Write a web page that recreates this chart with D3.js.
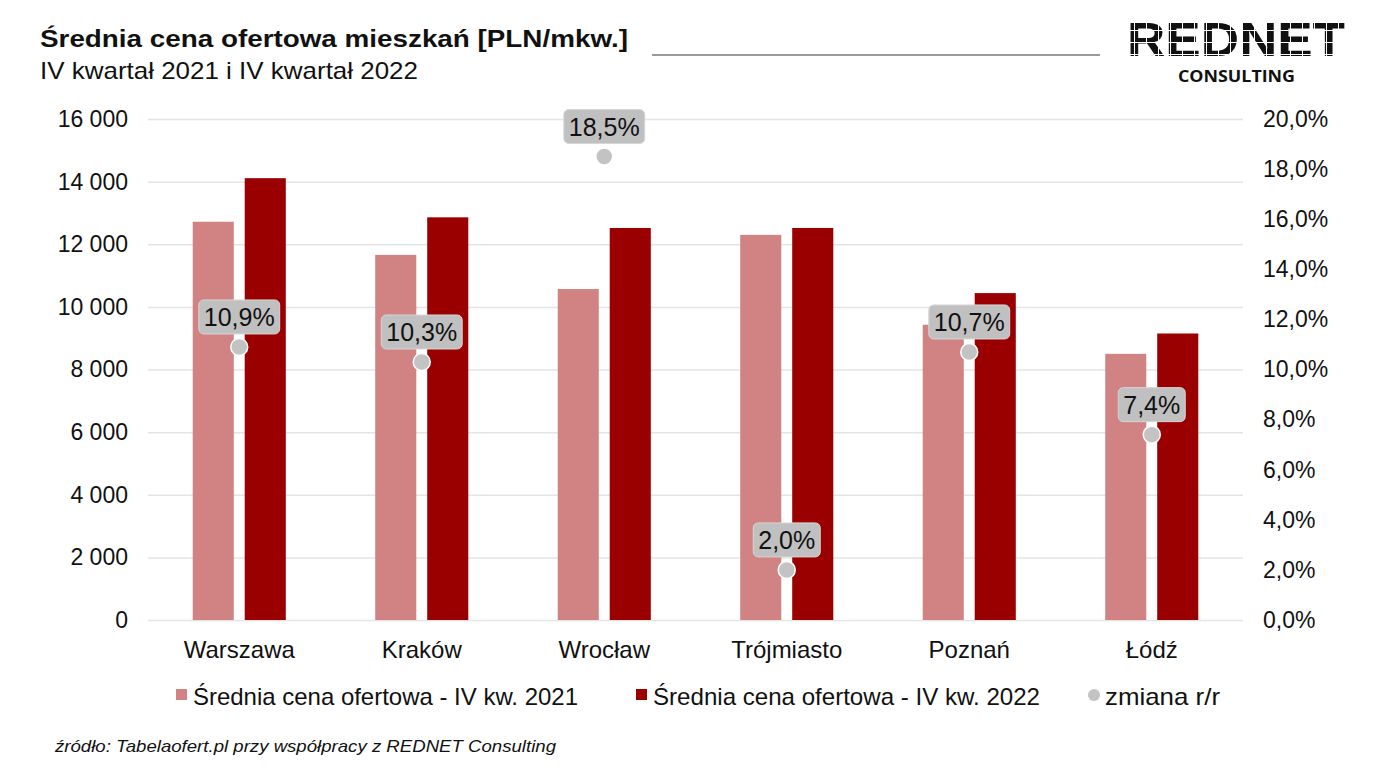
<!DOCTYPE html>
<html>
<head>
<meta charset="utf-8">
<script src="https://cdn.jsdelivr.net/npm/d3@7"></script>
<style>
  body { margin: 0; background: #fff; }
  text { font-family: "Liberation Sans", Arial, sans-serif; }
</style>
</head>
<body>
<div id="chart"></div>
<script>
const cities = ["Warszawa", "Kraków", "Wrocław", "Trójmiasto", "Poznań", "Łódź"];
const price2021 = [12720, 11660, 10570, 12300, 9430, 8500];
const price2022 = [14110, 12860, 12520, 12520, 10440, 9150];
const change = [10.9, 10.3, 18.5, 2.0, 10.7, 7.4];
const leftTicks = [0, 2000, 4000, 6000, 8000, 10000, 12000, 14000, 16000];
const rightTicks = [0, 2, 4, 6, 8, 10, 12, 14, 16, 18, 20];
const seriesNames = ["Średnia cena ofertowa - IV kw. 2021", "Średnia cena ofertowa - IV kw. 2022", "zmiana r/r"];

const width = 1385, height = 779;
const margin = { top: 119, right: 142, bottom: 159, left: 148 };
const colLight = "#d18383", colDark = "#9b0000", colDot = "#c3c3c3";

const svg = d3.select("#chart").append("svg")
    .attr("width", width)
    .attr("height", height);

// stripe pattern for the logo letters
const pat = svg.append("defs").append("pattern")
    .attr("id", "logoGrid")
    .attr("patternUnits", "userSpaceOnUse")
    .attr("width", 12).attr("height", 12);
pat.append("rect").attr("width", 12).attr("height", 12).attr("fill", "#111");
pat.append("rect").attr("x", 6).attr("width", 1).attr("height", 12).attr("fill", "#fff");
pat.append("rect").attr("y", 6).attr("width", 12).attr("height", 1).attr("fill", "#fff");

const x = d3.scaleBand()
    .domain(cities)
    .range([margin.left, width - margin.right])
    .paddingInner(0.49)
    .paddingOuter(0.245);

const xSub = d3.scaleBand()
    .domain([0, 1])
    .range([0, x.bandwidth()])
    .paddingInner(0.21);

const y = d3.scaleLinear()
    .domain([0, 16000])
    .range([height - margin.bottom, margin.top]);

const y2 = d3.scaleLinear()
    .domain([0, 20])
    .range([height - margin.bottom, margin.top]);

// gridlines
svg.append("g")
    .attr("transform", `translate(${margin.left},0)`)
    .call(d3.axisLeft(y).tickValues(leftTicks).tickSize(-(width - margin.left - margin.right)).tickFormat(""))
    .call(g => g.select(".domain").remove())
    .call(g => g.selectAll(".tick line").attr("stroke", "#e4e4e4").attr("stroke-width", 1.5));

// left axis labels
const fmtThousands = d => d3.format(",")(d).replace(/,/g, " ");
svg.append("g")
    .attr("transform", `translate(${margin.left - 20},0)`)
    .call(d3.axisLeft(y).tickValues(leftTicks).tickSize(0).tickFormat(fmtThousands))
    .call(g => g.select(".domain").remove())
    .call(g => g.selectAll(".tick text")
        .attr("x", 0).attr("fill", "#111").style("font-size", "23px")
        .style("font-family", "'Liberation Sans', Arial, sans-serif"));

// right axis labels
svg.append("g")
    .attr("transform", `translate(${width - margin.right + 20},0)`)
    .call(d3.axisRight(y2).tickValues(rightTicks).tickSize(0).tickFormat(d => d.toFixed(1).replace(".", ",") + "%"))
    .call(g => g.select(".domain").remove())
    .call(g => g.selectAll(".tick text")
        .attr("x", 0).attr("fill", "#111").style("font-size", "23px")
        .style("font-family", "'Liberation Sans', Arial, sans-serif"));

// x axis labels
svg.append("g")
    .attr("transform", `translate(0,${height - margin.bottom + 18})`)
    .call(d3.axisBottom(x).tickSize(0))
    .call(g => g.select(".domain").remove())
    .call(g => g.selectAll(".tick text")
        .attr("fill", "#111").style("font-size", "24px")
        .style("font-family", "'Liberation Sans', Arial, sans-serif"));

// bars
const groups = svg.selectAll("g.city")
    .data(cities)
    .enter().append("g")
    .attr("class", "city")
    .attr("transform", d => `translate(${x(d)},0)`);

groups.append("rect")
    .attr("x", xSub(0))
    .attr("width", xSub.bandwidth())
    .attr("y", (d, i) => y(price2021[i]))
    .attr("height", (d, i) => y(0) - y(price2021[i]))
    .attr("fill", colLight);

groups.append("rect")
    .attr("x", xSub(1))
    .attr("width", xSub.bandwidth())
    .attr("y", (d, i) => y(price2022[i]))
    .attr("height", (d, i) => y(0) - y(price2022[i]))
    .attr("fill", colDark);

// change dots and labels
cities.forEach((c, i) => {
    const cx = x(c) + x.bandwidth() / 2;
    const cy = y2(change[i]);
    svg.append("circle")
        .attr("cx", cx).attr("cy", cy).attr("r", 8.5)
        .attr("fill", colDot).attr("stroke", "#fff").attr("stroke-width", 1.5);

    const lbl = svg.append("g");
    const box = lbl.append("rect");
    const t = lbl.append("text")
        .attr("x", cx)
        .attr("y", cy - 21)
        .attr("text-anchor", "middle")
        .attr("fill", "#111")
        .style("font-size", "25px")
        .text(change[i].toFixed(1).replace(".", ",") + "%");
    const w = t.node().getComputedTextLength() + 10;
    box.attr("x", cx - w / 2).attr("y", cy - 47)
        .attr("width", w).attr("height", 34)
        .attr("rx", 5)
        .attr("fill", "#c0c0c0")
        .attr("stroke", "#d6d6d6").attr("stroke-width", 1);
});

// title
svg.append("text")
    .attr("x", 40).attr("y", 47)
    .attr("textLength", 588).attr("lengthAdjust", "spacingAndGlyphs")
    .style("font-size", "24px").style("font-weight", "bold")
    .attr("fill", "#111")
    .text("Średnia cena ofertowa mieszkań [PLN/mkw.]");

svg.append("text")
    .attr("x", 40).attr("y", 79)
    .attr("textLength", 378).attr("lengthAdjust", "spacingAndGlyphs")
    .style("font-size", "24px")
    .attr("fill", "#111")
    .text("IV kwartał 2021 i IV kwartał 2022");

svg.append("line")
    .attr("x1", 652).attr("x2", 1100)
    .attr("y1", 55).attr("y2", 55)
    .attr("stroke", "#9a9a9a").attr("stroke-width", 2);

// logo
svg.append("text")
    .attr("x", 1127).attr("y", 56)
    .attr("textLength", 218).attr("lengthAdjust", "spacingAndGlyphs")
    .style("font-size", "48px").style("font-weight", "bold")
    .attr("fill", "url(#logoGrid)")
    .text("REDNET");
svg.append("text")
    .attr("x", 1178).attr("y", 82)
    .attr("textLength", 117).attr("lengthAdjust", "spacingAndGlyphs")
    .style("font-size", "16px").style("font-weight", "bold")
    .style("font-family", "'Open Sans', sans-serif")
    .attr("fill", "#111")
    .text("CONSULTING");

// legend
const legendY = 705;
const legendItems = [
    { x: 193, len: 385, color: colLight, shape: "rect" },
    { x: 653, len: 387, color: colDark, shape: "rect" },
    { x: 1105, len: 115, color: colDot, shape: "circle" }
];
legendItems.forEach((item, i) => {
    if (item.shape === "rect") {
        svg.append("rect")
            .attr("x", item.x - 17).attr("y", legendY - 16)
            .attr("width", 11).attr("height", 11)
            .attr("fill", item.color);
    } else {
        svg.append("circle")
            .attr("cx", item.x - 11).attr("cy", legendY - 10)
            .attr("r", 6)
            .attr("fill", item.color);
    }
    svg.append("text")
        .attr("x", item.x).attr("y", legendY)
        .attr("textLength", item.len).attr("lengthAdjust", "spacingAndGlyphs")
        .style("font-size", "24px")
        .attr("fill", "#111")
        .text(seriesNames[i]);
});

// source
svg.append("text")
    .attr("x", 55).attr("y", 752)
    .attr("textLength", 501).attr("lengthAdjust", "spacingAndGlyphs")
    .style("font-size", "17px").style("font-style", "italic")
    .attr("fill", "#111")
    .text("źródło: Tabelaofert.pl przy współpracy z REDNET Consulting");
</script>
</body>
</html>
